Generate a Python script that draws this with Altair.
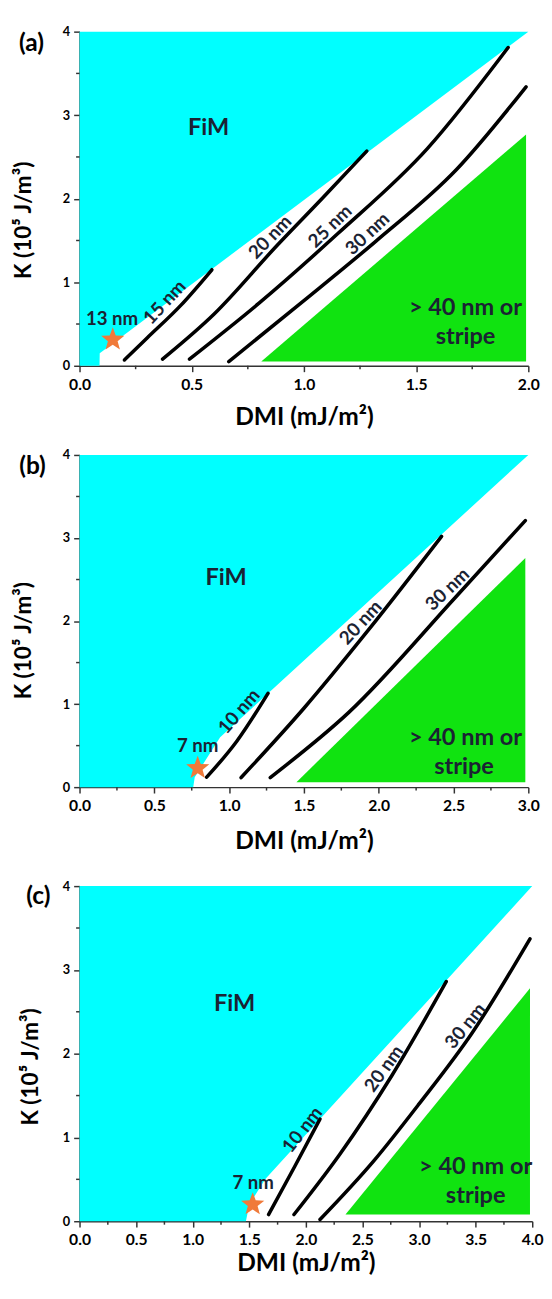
import math
import altair as alt
import pandas as pd

FONT = "Lato"
CYAN = "#00FFFF"
GREEN = "#10E310"
INK = "#1b2333"
STAR_COLOR = "#F07A3A"
AXIS_COLOR = "#333333"
X_TITLE = "DMI (mJ/m²)"
Y_TITLE = "K (10⁵ J/m³)"

# ---------------- panel (a) data ----------------
a_xmax = 2.0
a_fim_x = [0.0, 0.089, 0.09, 2.0]
a_fim_y = [0.0, 0.0, 0.15, 4.0]
a_big_x = [0.81, 1.99]
a_big_lo = [0.05, 0.05]
a_big_hi = [0.05, 2.77]
a_c15_x = [0.20, 0.30, 0.45, 0.59]
a_c15_y = [0.07, 0.33, 0.72, 1.15]
a_c20_x = [0.37, 0.60, 0.88, 1.08, 1.28]
a_c20_y = [0.08, 0.62, 1.44, 2.00, 2.57]
a_c25_x = [0.49, 0.80, 1.15, 1.55, 1.91]
a_c25_y = [0.08, 0.75, 1.58, 2.60, 3.81]
a_c30_x = [0.665, 1.00, 1.32, 1.68, 1.99]
a_c30_y = [0.05, 0.78, 1.49, 2.35, 3.34]
a_lab_text = ["13 nm", "15 nm", "20 nm", "25 nm", "30 nm"]
a_lab_x = [0.145, 0.38, 0.85, 1.117, 1.284]
a_lab_y = [0.56, 0.76, 1.54, 1.67, 1.58]
a_star_x = [0.148]
a_star_y = [0.314]
a_fim_pos = [0.575, 2.84]
a_big_text = ["> 40 nm or", "stripe"]
a_big_tx = [1.72, 1.72]
a_big_ty = [0.69, 0.34]

# ---------------- panel (b) data ----------------
b_xmax = 3.0
b_fim_x = [0.0, 0.76, 0.77, 0.94, 3.0]
b_fim_y = [0.0, 0.0, 0.12, 0.60, 4.0]
b_big_x = [1.45, 2.98]
b_big_lo = [0.06, 0.06]
b_big_hi = [0.06, 2.76]
b_c10_x = [0.85, 1.05, 1.26]
b_c10_y = [0.12, 0.55, 1.13]
b_c20_x = [1.08, 1.50, 1.93, 2.42]
b_c20_y = [0.115, 0.95, 1.89, 3.02]
b_c30_x = [1.275, 1.80, 2.515, 2.98]
b_c30_y = [0.115, 0.90, 2.29, 3.21]
b_lab_text = ["7 nm", "10 nm", "20 nm", "30 nm"]
b_lab_x = [0.79, 1.067, 1.88, 2.46]
b_lab_y = [0.49, 0.91, 1.98, 2.38]
b_star_x = [0.79]
b_star_y = [0.23]
b_fim_pos = [0.98, 2.52]
b_big_text = ["> 40 nm or", "stripe"]
b_big_tx = [2.58, 2.57]
b_big_ty = [0.59, 0.24]

# ---------------- panel (c) data ----------------
c_xmax = 4.0
c_fim_x = [0.0, 1.47, 1.50, 1.64, 4.0]
c_fim_y = [0.0, 0.0, 0.20, 0.50, 4.0]
c_big_x = [2.35, 3.98]
c_big_lo = [0.08, 0.08]
c_big_hi = [0.08, 2.78]
c_c10_x = [1.67, 1.90, 2.125]
c_c10_y = [0.08, 0.65, 1.22]
c_c20_x = [1.895, 2.30, 2.76, 3.24]
c_c20_y = [0.08, 0.80, 1.74, 2.86]
c_c30_x = [2.125, 2.60, 3.00, 3.47, 3.98]
c_c30_y = [0.02, 0.72, 1.40, 2.25, 3.37]
c_lab_text = ["7 nm", "10 nm", "20 nm", "30 nm"]
c_lab_x = [1.535, 1.97, 2.69, 3.41]
c_lab_y = [0.456, 1.09, 1.82, 2.33]
c_star_x = [1.53]
c_star_y = [0.20]
c_fim_pos = [1.37, 2.59]
c_big_text = ["> 40 nm or", "stripe"]
c_big_tx = [3.50, 3.50]
c_big_ty = [0.65, 0.30]

# text rotation (style) for each curve label, degrees clockwise
a_lab_angle = [0, 313, 314, 316, 317]
b_lab_angle = [0, 311, 313, 316]
c_lab_angle = [0, 308, 306, 309]


def star_path():
    pts = []
    for i in range(10):
        ang = math.radians(-90 + 36 * i)
        r = 1.0 if i % 2 == 0 else 0.42
        pts.append(f"{r * math.cos(ang):.3f},{r * math.sin(ang):.3f}")
    return "M" + "L".join(pts) + "Z"


STAR = star_path()


def make_panel(tag, xmax, w, h, fim_x, fim_y, big_x, big_lo, big_hi,
               curves, lab_text, lab_x, lab_y, lab_angle, star_x, star_y,
               fim_pos, big_text, big_tx, big_ty,
               tag_x, tag_y, ytitle_y, ytitle_pad, xtitle_pad):
    xs = alt.Scale(domain=[0, xmax], nice=False, zero=False)
    ys = alt.Scale(domain=[0, 4], nice=False, zero=False)
    nmaj = int(round(xmax / 0.5))
    x_major = [i * 0.5 for i in range(nmaj + 1)]
    x_minor = [i * 0.5 + 0.25 for i in range(nmaj)]
    y_major = [0, 1, 2, 3, 4]
    y_minor = [0.5, 1.5, 2.5, 3.5]
    xaxis = alt.Axis(
        values=x_major, format=".1f", tickSize=6,
        labelPadding=5, labelFontSize=16, titleFontSize=25, titlePadding=xtitle_pad,
        labelOverlap=False, labelFlush=False,
    )
    yaxis = alt.Axis(
        values=y_major, format="d", tickSize=6,
        labelPadding=4, labelFontSize=13, titleFontSize=23, titlePadding=ytitle_pad,
        titleY=ytitle_y, labelOverlap=False, labelFlush=False,
    )

    def X(f):
        return alt.X(f, scale=xs, axis=xaxis, title=X_TITLE)

    def Y(f):
        return alt.Y(f, scale=ys, axis=yaxis, title=Y_TITLE)

    fim_df = pd.DataFrame({"x": fim_x, "lo": fim_y, "hi": [4.0] * len(fim_x)})
    big_df = pd.DataFrame({"x": big_x, "lo": big_lo, "hi": big_hi})

    rows = []
    for name, (cx, cy) in curves.items():
        for i, (xv, yv) in enumerate(zip(cx, cy)):
            rows.append({"curve": name, "x": xv, "y": yv, "i": i})
    line_df = pd.DataFrame(rows)

    fim = alt.Chart(fim_df).mark_area(color=CYAN, opacity=1).encode(
        x=X("x:Q"), y=Y("lo:Q"), y2=alt.Y2("hi"),
    )
    big = alt.Chart(big_df).mark_area(color=GREEN, opacity=1).encode(
        x=X("x:Q"), y=Y("lo:Q"), y2=alt.Y2("hi"),
    )
    lines = alt.Chart(line_df).mark_line(
        color="black", strokeWidth=3.6, strokeCap="round", interpolate="monotone"
    ).encode(x=X("x:Q"), y=Y("y:Q"), detail="curve:N", order="i:Q")

    xminor = alt.Chart(pd.DataFrame({"x": x_minor})).mark_rule(
        color=AXIS_COLOR, strokeWidth=1.5
    ).encode(x=X("x:Q"), y=alt.value(h), y2=alt.value(h + 3.5))
    yminor = alt.Chart(pd.DataFrame({"y": y_minor})).mark_rule(
        color=AXIS_COLOR, strokeWidth=1.5
    ).encode(y=Y("y:Q"), x=alt.value(0), x2=alt.value(-3.5))

    layers = [fim, big, lines, xminor, yminor]

    for t, lx, ly, ang in zip(lab_text, lab_x, lab_y, lab_angle):
        d = pd.DataFrame({"x": [lx], "y": [ly], "t": [t]})
        layers.append(
            alt.Chart(d).mark_text(
                font=FONT, fontWeight="bold", fontSize=19, color=INK,
                angle=ang, align="center", baseline="middle",
            ).encode(x=X("x:Q"), y=Y("y:Q"), text="t:N")
        )

    fim_t = pd.DataFrame({"x": [fim_pos[0]], "y": [fim_pos[1]], "t": ["FiM"]})
    layers.append(
        alt.Chart(fim_t).mark_text(font=FONT, fontWeight="bold", fontSize=24,
                                   color=INK, align="center", baseline="middle").encode(
            x=X("x:Q"), y=Y("y:Q"), text="t:N")
    )
    big_t = pd.DataFrame({"x": big_tx, "y": big_ty, "t": big_text})
    layers.append(
        alt.Chart(big_t).mark_text(font=FONT, fontWeight="bold", fontSize=24,
                                   color=INK, align="center", baseline="middle").encode(
            x=X("x:Q"), y=Y("y:Q"), text="t:N")
    )
    star_df = pd.DataFrame({"x": star_x, "y": star_y})
    layers.append(
        alt.Chart(star_df).mark_point(shape=STAR, filled=True, size=620,
                                      color=STAR_COLOR, opacity=1, strokeWidth=0).encode(
            x=X("x:Q"), y=Y("y:Q"))
    )
    tag_df = pd.DataFrame({"t": [tag]})
    layers.append(
        alt.Chart(tag_df).mark_text(font=FONT, fontWeight="bold", fontSize=25,
                                    color="black", align="center", baseline="middle").encode(
            x=alt.value(tag_x), y=alt.value(tag_y), text="t:N")
    )
    return alt.layer(*layers).properties(width=w, height=h)


pa = make_panel("(a)", a_xmax, 458, 341, a_fim_x, a_fim_y, a_big_x, a_big_lo, a_big_hi,
                {"15": (a_c15_x, a_c15_y), "20": (a_c20_x, a_c20_y),
                 "25": (a_c25_x, a_c25_y), "30": (a_c30_x, a_c30_y)},
                a_lab_text, a_lab_x, a_lab_y, a_lab_angle, a_star_x, a_star_y,
                a_fim_pos, a_big_text, a_big_tx, a_big_ty,
                tag_x=-49, tag_y=12, ytitle_y=192, ytitle_pad=27, xtitle_pad=13)
pb = make_panel("(b)", b_xmax, 458, 339, b_fim_x, b_fim_y, b_big_x, b_big_lo, b_big_hi,
                {"10": (b_c10_x, b_c10_y), "20": (b_c20_x, b_c20_y),
                 "30": (b_c30_x, b_c30_y)},
                b_lab_text, b_lab_x, b_lab_y, b_lab_angle, b_star_x, b_star_y,
                b_fim_pos, b_big_text, b_big_tx, b_big_ty,
                tag_x=-48, tag_y=11, ytitle_y=189, ytitle_pad=27, xtitle_pad=16)
pc = make_panel("(c)", c_xmax, 462, 342, c_fim_x, c_fim_y, c_big_x, c_big_lo, c_big_hi,
                {"10": (c_c10_x, c_c10_y), "20": (c_c20_x, c_c20_y),
                 "30": (c_c30_x, c_c30_y)},
                c_lab_text, c_lab_x, c_lab_y, c_lab_angle, c_star_x, c_star_y,
                c_fim_pos, c_big_text, c_big_tx, c_big_ty,
                tag_x=-42, tag_y=10, ytitle_y=184, ytitle_pad=20, xtitle_pad=3)

top = alt.vconcat(pa, pb, spacing=20)
chart = alt.vconcat(top, pc, spacing=27).configure_view(strokeWidth=0).configure_axis(
    grid=False,
    domainColor=AXIS_COLOR,
    domainWidth=1.5,
    tickColor=AXIS_COLOR,
    tickWidth=1.5,
    labelFont=FONT,
    labelFontWeight="bold",
    labelColor="black",
    titleFont=FONT,
    titleFontWeight="bold",
    titleColor="black",
).properties(padding={"left": 5, "top": 5, "right": 0, "bottom": 0})

chart.save("out.html", embed_options={"renderer": "svg", "actions": False})
